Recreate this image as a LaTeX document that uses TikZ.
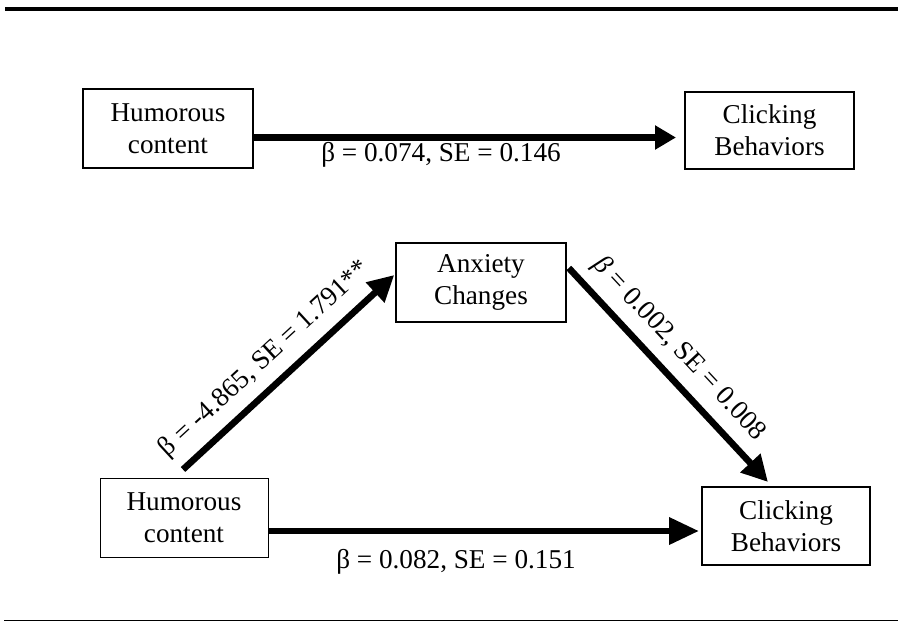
\documentclass[tikz,border=0pt]{standalone}
\usepackage{fontspec}
\setmainfont{Liberation Serif}
\usetikzlibrary{arrows.meta,calc}
\begin{document}
\begin{tikzpicture}[x=0.5pt,y=-0.5pt,
  every node/.style={font=\fontsize{13.6pt}{16pt}\selectfont},
  box/.style={draw, align=center, inner sep=0pt, line width=1pt},
  effect/.style={line width=3.3pt},
  coef/.style={inner sep=1pt}]
  % page frame
  \useasboundingbox (0,0) rectangle (898,622);
  \coordinate (rtl) at (5,9);
  \coordinate (rtr) at (898,9);
  \coordinate (rbl) at (4,620.6);
  \coordinate (rbr) at (898,620.6);
  \draw[line width=2.25pt] (rtl) -- (rtr);
  \draw[line width=0.85pt] (rbl) -- (rbr);

  % total effect model
  \node[box, minimum width=85pt, minimum height=39.5pt] (hc1) at (168,128.5) {Humorous\\content};
  \node[box, minimum width=84.5pt, minimum height=38.5pt] (cb1) at (769.5,130.5) {Clicking\\Behaviors};
  \draw[effect, -{Triangle[length=10.5pt,width=11.5pt]}]
    ($(hc1.east)+(0,9)$) -- ($(cb1.west)+(-8,7)$);
  \node[coef, anchor=base] (t1) at (441,161) {β = 0.074, SE = 0.146};

  % mediation model
  \node[box, line width=0.8pt, minimum width=85pt, minimum height=39.5pt] (anx) at (481,282.5) {Anxiety\\Changes};
  \node[box, line width=0.5pt, minimum width=84pt, minimum height=39.5pt] (hc2) at (184,517.5) {Humorous\\content};
  \node[box, minimum width=84pt, minimum height=39pt] (cb2) at (786,526) {Clicking\\Behaviors};

  \draw[effect, -{Triangle[length=13pt,width=13pt]}]
    ($(hc2.north)+(-1,-8)$) -- ($(anx.west)+(-1,-7.5)$)
    node[coef, pos=0.47, sloped, above=4pt] (a1) {β = -4.865, SE = 1.791**};
  \draw[effect, -{Triangle[length=13pt,width=13pt]}]
    ($(anx.east)+(2,-14.5)$) -- ($(cb2.north)+(-18,-4)$)
    node[coef, pos=0.46, sloped, above=4pt] (b1) {\textit{β} = 0.002, SE = 0.008};
  \draw[effect, -{Triangle[length=15pt,width=13pt]}]
    ($(hc2.east)+(0,13.5)$) -- ($(cb2.west)+(-2,5)$);
  \node[coef, anchor=base] (c1) at (456,568) {β = 0.082, SE = 0.151};
\end{tikzpicture}
\end{document}
